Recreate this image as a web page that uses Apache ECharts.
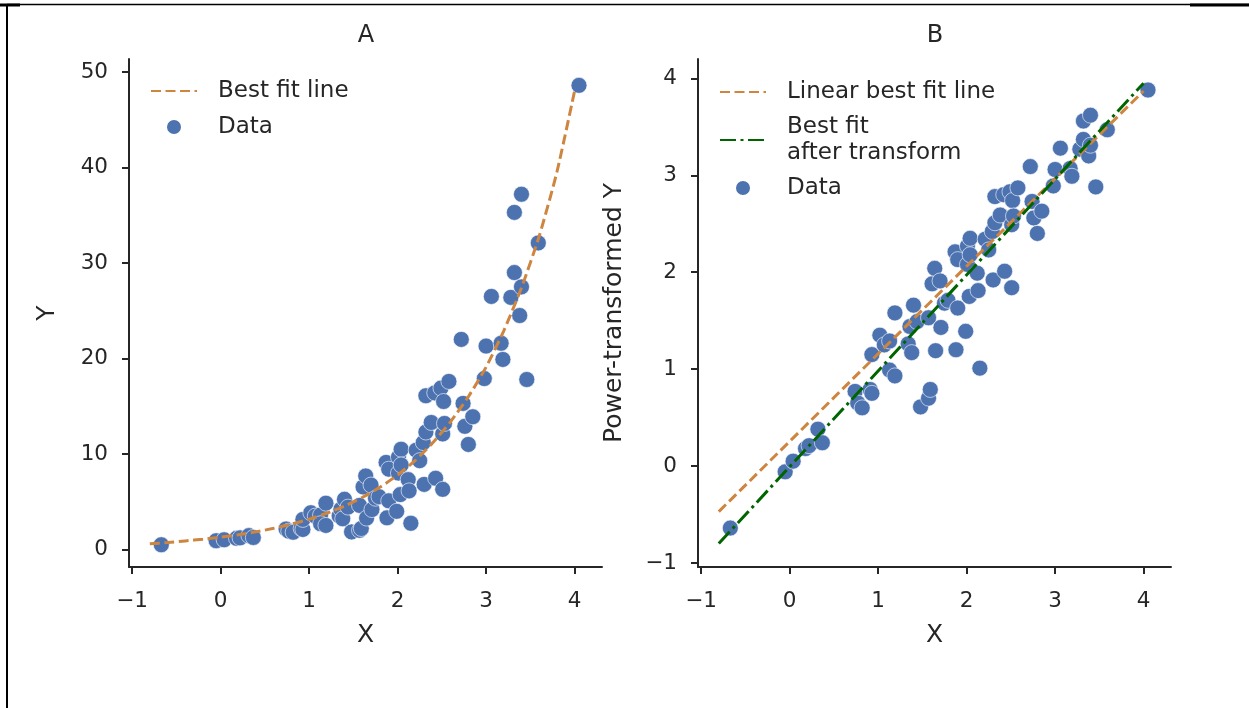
<!DOCTYPE html>
<html>
<head>
<meta charset="utf-8">
<script src="https://cdn.jsdelivr.net/npm/echarts@6/dist/echarts.min.js"></script>
<style>
  html, body { margin: 0; padding: 0; background: #ffffff; }
  #chart { width: 1249px; height: 708px; }
</style>
</head>
<body>
<div id="chart"></div>
<script>
// Observations: predictor X, raw response Y and its power-transformed counterpart
const xValues = [
  -0.67, -0.05, 0.04, 0.18, 0.22, 0.32, 0.37, 0.74, 0.77, 0.82,
  0.91, 0.93, 0.93, 1.02, 1.07, 1.13, 1.13, 1.19, 1.19, 1.34,
  1.36, 1.38, 1.40, 1.44, 1.48, 1.57, 1.57, 1.59, 1.61, 1.64,
  1.65, 1.70, 1.71, 1.75, 1.79, 1.87, 1.90, 1.90, 1.88, 1.99,
  2.01, 2.01, 2.03, 2.04, 2.04, 2.12, 2.13, 2.15, 2.21, 2.25,
  2.29, 2.30, 2.32, 2.32, 2.38, 2.42, 2.43, 2.49, 2.51, 2.51,
  2.52, 2.53, 2.58, 2.72, 2.74, 2.76, 2.80, 2.85, 2.98, 3.00,
  3.06, 3.17, 3.19, 3.28, 3.32, 3.32, 3.38, 3.40, 3.40, 3.46,
  3.59, 4.05
];
const yRaw = [
  0.50, 0.92, 1.02, 1.17, 1.22, 1.46, 1.26, 2.15, 1.92, 1.81,
  2.20, 2.10, 3.15, 3.85, 3.50, 3.62, 2.70, 2.52, 4.85, 3.52,
  4.22, 3.22, 5.26, 4.44, 1.84, 2.01, 4.62, 2.20, 6.55, 7.70,
  3.29, 6.75, 4.18, 5.37, 5.53, 9.12, 5.10, 8.41, 3.32, 4.00,
  9.68, 8.00, 5.75, 10.5, 8.85, 7.32, 6.14, 2.75, 10.4, 9.30,
  11.2, 6.82, 12.3, 16.1, 13.3, 16.4, 7.46, 16.9, 12.1, 6.30,
  15.5, 13.2, 17.6, 22.0, 15.3, 12.9, 11.0, 13.9, 17.9, 21.3,
  26.5, 21.6, 19.9, 26.4, 29.0, 35.3, 24.5, 27.5, 37.2, 17.8,
  32.1, 48.6
];
const yTransformed = [
  -0.64, -0.06, 0.05, 0.18, 0.21, 0.38, 0.24, 0.77, 0.65, 0.60,
  0.79, 0.75, 1.15, 1.35, 1.25, 1.29, 0.99, 0.93, 1.58, 1.26,
  1.44, 1.17, 1.66, 1.49, 0.61, 0.70, 1.53, 0.79, 1.88, 2.04,
  1.19, 1.91, 1.43, 1.68, 1.71, 2.21, 1.63, 2.13, 1.20, 1.39,
  2.27, 2.08, 1.75, 2.35, 2.18, 1.99, 1.81, 1.01, 2.34, 2.23,
  2.42, 1.92, 2.51, 2.78, 2.59, 2.80, 2.01, 2.83, 2.49, 1.84,
  2.74, 2.58, 2.87, 3.09, 2.73, 2.56, 2.40, 2.63, 2.89, 3.06,
  3.28, 3.07, 2.99, 3.27, 3.37, 3.56, 3.20, 3.31, 3.62, 2.88,
  3.47, 3.88
];

// Fitted exponential curve on the raw scale
const fitX = [-0.8, -0.6, -0.4, -0.2, 0.0, 0.2, 0.4, 0.6, 0.8, 1.0, 1.2, 1.4, 1.6,
              1.8, 2.0, 2.2, 2.4, 2.6, 2.8, 3.0, 3.2, 3.4, 3.6, 3.8, 4.0];
const fitY = [0.60, 0.73, 0.90, 1.08, 1.29, 1.55, 1.85, 2.22, 2.65, 3.17, 3.80, 4.55, 5.45,
              6.52, 7.80, 9.33, 11.2, 13.4, 16.0, 19.1, 22.9, 27.4, 32.8, 39.5, 48.0];

// Straight fits on the transformed scale
const linearFitX = [-0.8, 4.0];
const linearFitY = [-0.47, 3.87];
const transformFitX = [-0.8, 4.0];
const transformFitY = [-0.80, 3.95];

// Tick positions
const xTicks = [-1, 0, 1, 2, 3, 4];
const yRawTicks = [0, 10, 20, 30, 40, 50];
const yTransformedTicks = [-1, 0, 1, 2, 3, 4];

const FONT = 'DejaVu Sans';
const INK = '#262626';
const BLUE = '#4c72b0';
const ORANGE = '#cd853f';
const GREEN = '#006400';

const pairs = (xs, ys) => xs.map((x, i) => [x, ys[i]]);
const minusSign = v => String(v).replace('-', '\u2212');

function valueAxis(opts) {
  return {
    type: 'value',
    gridIndex: opts.grid,
    min: opts.min,
    max: opts.max,
    name: opts.name,
    nameLocation: 'middle',
    nameGap: opts.nameGap,
    nameTextStyle: { fontFamily: FONT, fontSize: 25, color: INK },
    axisLine: { show: true, onZero: false, lineStyle: { color: INK, width: 2 } },
    axisTick: { show: true, inside: false, length: 7, customValues: opts.ticks,
                lineStyle: { color: INK, width: 2 } },
    axisLabel: { show: true, customValues: opts.ticks, margin: opts.labelMargin,
                 fontFamily: FONT, fontSize: 21.5, color: INK, formatter: minusSign },
    splitLine: { show: false }
  };
}

// Line entries in the legends show only the stroke sample, no marker
const hiddenMarker = { color: 'rgba(0,0,0,0)', borderColor: 'rgba(0,0,0,0)', borderWidth: 0, opacity: 0 };

function legendAt(names, left, top, extra) {
  return Object.assign({
    data: names, orient: 'vertical', left: left, top: top, padding: 0,
    itemWidth: 46, itemHeight: 16, itemGap: 10, selectedMode: false,
    textStyle: { fontFamily: FONT, fontSize: 23, lineHeight: 26, color: INK, padding: [0, 0, 0, 16] }
  }, extra || {});
}

const chart = echarts.init(document.getElementById('chart'), null, { renderer: 'canvas' });
chart.setOption({
  animation: false,
  backgroundColor: '#ffffff',
  grid: [
    { left: 129, top: 59, width: 473, height: 508 },
    { left: 698, top: 59, width: 473, height: 508 }
  ],
  xAxis: [
    valueAxis({ grid: 0, min: -1.035, max: 4.31, ticks: xTicks, name: 'X', nameGap: 56, labelMargin: 23 }),
    valueAxis({ grid: 1, min: -1.035, max: 4.31, ticks: xTicks, name: 'X', nameGap: 56, labelMargin: 23 })
  ],
  yAxis: [
    valueAxis({ grid: 0, min: -1.83, max: 51.36, ticks: yRawTicks, name: 'Y', nameGap: 69, labelMargin: 21 }),
    valueAxis({ grid: 1, min: -1.042, max: 4.20, ticks: yTransformedTicks, name: 'Power-transformed Y', nameGap: 71, labelMargin: 21 })
  ],
  legend: [
    legendAt([{ name: 'Best fit line', itemStyle: hiddenMarker }, 'Data'], 150, 78),
    legendAt([{ name: 'Linear best fit line', itemStyle: hiddenMarker }], 719, 79),
    legendAt([{ name: 'Best fit after transform', itemStyle: hiddenMarker }], 719, 114, {
      formatter: () => 'Best fit\nafter transform'
    }),
    // the marker-only entry is laid out from the circle's own left edge
    legendAt(['Data'], 734, 175)
  ],
  graphic: [
    { type: 'text', x: 366, y: 36, style: { text: 'A', fontFamily: FONT, fontSize: 24, fill: INK, align: 'center', verticalAlign: 'middle' } },
    { type: 'text', x: 935, y: 36, style: { text: 'B', fontFamily: FONT, fontSize: 24, fill: INK, align: 'center', verticalAlign: 'middle' } },
    { type: 'line', shape: { x1: 7, y1: 4.5, x2: 1249, y2: 4.5 }, style: { stroke: '#000', lineWidth: 1.5 } },
    { type: 'line', shape: { x1: 0, y1: 5, x2: 20, y2: 5 }, style: { stroke: '#000', lineWidth: 3 } },
    { type: 'line', shape: { x1: 1190, y1: 5, x2: 1249, y2: 5 }, style: { stroke: '#000', lineWidth: 3 } },
    { type: 'line', shape: { x1: 7, y1: 4, x2: 7, y2: 708 }, style: { stroke: '#000', lineWidth: 2 } }
  ],
  series: [
    {
      name: 'Data', type: 'scatter', xAxisIndex: 0, yAxisIndex: 0,
      data: pairs(xValues, yRaw), symbol: 'circle', symbolSize: 16, z: 2,
      itemStyle: { color: BLUE, opacity: 1, borderColor: '#ffffff', borderWidth: 0.6 }
    },
    {
      name: 'Best fit line', type: 'line', xAxisIndex: 0, yAxisIndex: 0,
      data: pairs(fitX, fitY), symbol: 'none', smooth: 0.2, z: 3,
      lineStyle: { color: ORANGE, width: 3, type: [10, 4.5] },
      itemStyle: { color: ORANGE }
    },
    {
      name: 'Data', type: 'scatter', xAxisIndex: 1, yAxisIndex: 1,
      data: pairs(xValues, yTransformed), symbol: 'circle', symbolSize: 16, z: 2,
      itemStyle: { color: BLUE, opacity: 1, borderColor: '#ffffff', borderWidth: 0.6 }
    },
    {
      name: 'Linear best fit line', type: 'line', xAxisIndex: 1, yAxisIndex: 1,
      data: pairs(linearFitX, linearFitY), symbol: 'none', z: 3,
      lineStyle: { color: ORANGE, width: 3, type: [10, 4.5] },
      itemStyle: { color: ORANGE }
    },
    {
      name: 'Best fit after transform', type: 'line', xAxisIndex: 1, yAxisIndex: 1,
      data: pairs(transformFitX, transformFitY), symbol: 'none', z: 4,
      lineStyle: { color: GREEN, width: 3, type: [16, 4.5, 3, 4.5] },
      itemStyle: { color: GREEN }
    }
  ]
});
</script>
</body>
</html>
